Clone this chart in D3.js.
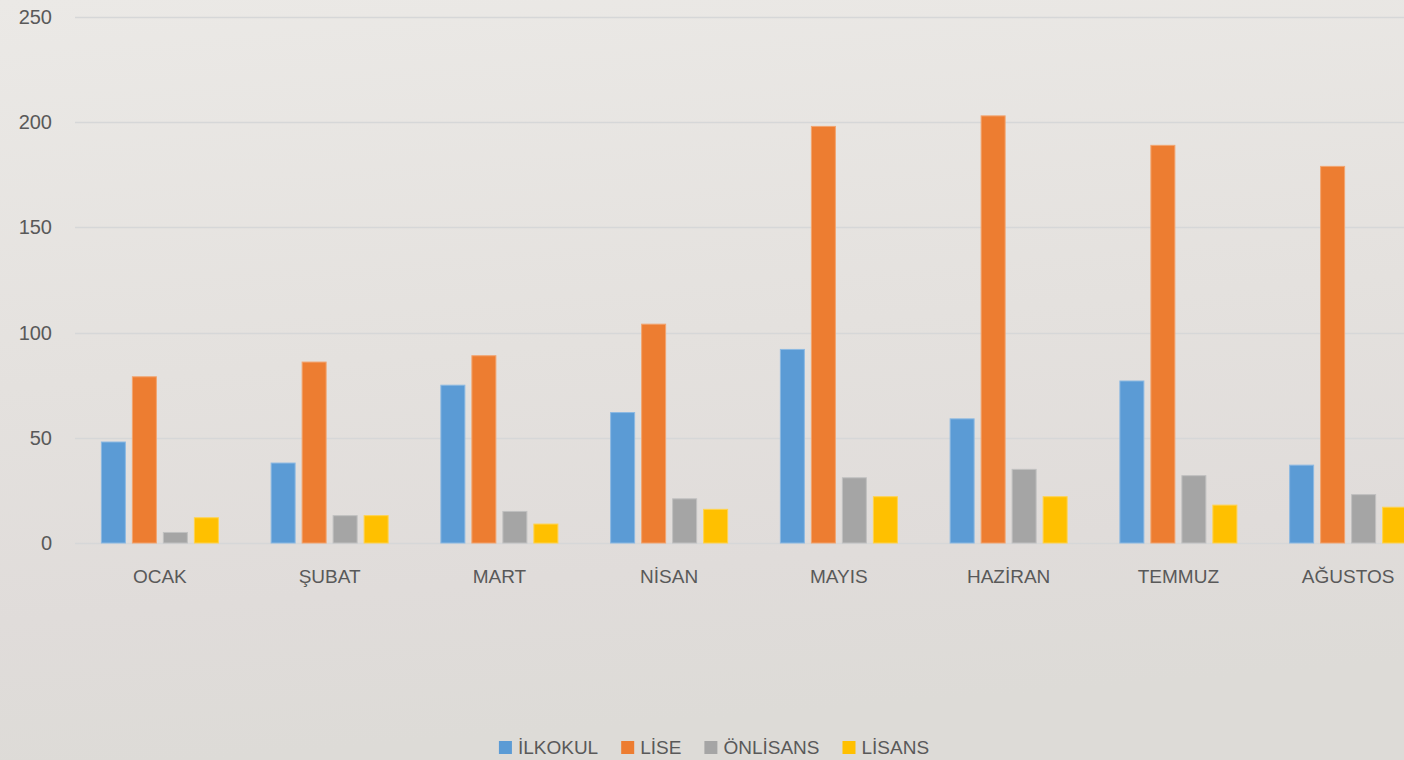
<!DOCTYPE html>
<html>
<head>
<meta charset="utf-8">
<script src="https://cdn.jsdelivr.net/npm/d3@7"></script>
<style>
  html, body { margin: 0; padding: 0; overflow: hidden; }
  body { width: 1404px; height: 760px; }
</style>
</head>
<body>
<svg id="chart" width="1404" height="760"></svg>
<script>
var months = ['OCAK', 'ŞUBAT', 'MART', 'NİSAN', 'MAYIS', 'HAZİRAN', 'TEMMUZ', 'AĞUSTOS'];
var seriesNames = ['İLKOKUL', 'LİSE', 'ÖNLİSANS', 'LİSANS'];
var ilkokul = [48, 38, 75, 62, 92, 59, 77, 37];
var lise = [79, 86, 89, 104, 198, 203, 189, 179];
var onlisans = [5, 13, 15, 21, 31, 35, 32, 23];
var lisans = [12, 13, 9, 16, 22, 22, 18, 17];
var yTicks = [0, 50, 100, 150, 200, 250];

var colors = ['#5b9bd5', '#ed7d31', '#a5a5a5', '#ffc000'];
var values = [ilkokul, lise, onlisans, lisans];

var svg = d3.select('#chart');

// background gradient
var defs = svg.append('defs');
var grad = defs.append('linearGradient')
    .attr('id', 'bg').attr('x1', 0).attr('y1', 0).attr('x2', 0.15).attr('y2', 1);
grad.append('stop').attr('offset', '0%').attr('stop-color', '#ebe9e6');
grad.append('stop').attr('offset', '50%').attr('stop-color', '#e4e1de');
grad.append('stop').attr('offset', '80%').attr('stop-color', '#e0dcda');
grad.append('stop').attr('offset', '100%').attr('stop-color', '#dddbd7');
svg.append('rect').attr('width', 1404).attr('height', 760).attr('fill', 'url(#bg)');

var margin = {left: 75, top: 17};
var plotBottom = 543;

var x0 = d3.scaleBand().domain(months).range([margin.left, margin.left + 8 * 169.75]).padding(0);
var groupW = 117;
var x1 = d3.scaleBand().domain(seriesNames)
    .range([(x0.bandwidth() - groupW) / 2, (x0.bandwidth() + groupW) / 2])
    .paddingInner(7 / 31);
var y = d3.scaleLinear().domain([0, 250]).range([plotBottom, margin.top]);

// gridlines
svg.append('g').selectAll('line')
    .data(yTicks)
    .enter()
    .append('line')
    .attr('x1', margin.left)
    .attr('x2', 1404)
    .attr('y1', function(d){ return Math.round(y(d)) + 0.5; })
    .attr('y2', function(d){ return Math.round(y(d)) + 0.5; })
    .attr('stroke', '#d6d7d8')
    .attr('stroke-width', 1.3);

// y tick labels
svg.append('g').selectAll('text')
    .data(yTicks)
    .enter()
    .append('text')
    .text(function(d){ return d; })
    .attr('x', 52)
    .attr('y', function(d){ return y(d) + 7; })
    .attr('text-anchor', 'end')
    .style('font-family', '"Liberation Sans", Arial, sans-serif')
    .style('font-size', '20px')
    .style('fill', '#595959');

// bars
var groups = svg.append('g').selectAll('g')
    .data(months)
    .enter()
    .append('g')
    .attr('transform', function(d){ return 'translate(' + x0(d) + ',0)'; });

groups.selectAll('rect')
    .data(function(d, i){
        return seriesNames.map(function(s, j){ return {s: s, v: values[j][i], c: colors[j]}; });
    })
    .enter()
    .append('rect')
    .attr('x', function(d){ return x1(d.s); })
    .attr('width', x1.bandwidth())
    .attr('y', function(d){ return y(d.v); })
    .attr('height', function(d){ return plotBottom - y(d.v); })
    .attr('fill', function(d){ return d.c; })
    .attr('stroke', function(d){ return d3.interpolateRgb(d.c, '#ffffff')(0.3); })
    .attr('stroke-width', 1);

// category labels
svg.append('g').selectAll('text')
    .data(months)
    .enter()
    .append('text')
    .text(function(d){ return d; })
    .attr('x', function(d){ return x0(d) + x0.bandwidth() / 2; })
    .attr('y', 583)
    .attr('text-anchor', 'middle')
    .style('font-family', '"Liberation Sans", Arial, sans-serif')
    .style('font-size', '19px')
    .style('fill', '#595959');

// legend
var legend = svg.append('g');
var items = legend.selectAll('g')
    .data(seriesNames)
    .enter()
    .append('g');
items.append('rect')
    .attr('width', 13).attr('height', 13)
    .attr('y', 741)
    .attr('fill', function(d, i){ return colors[i]; });
items.append('text')
    .text(function(d){ return d; })
    .attr('x', 19)
    .attr('y', 754)
    .style('font-family', '"Liberation Sans", Arial, sans-serif')
    .style('font-size', '19px')
    .style('fill', '#595959');

var pos = 0, gap = 23, offsets = [];
items.each(function(d, i){
    offsets.push(pos);
    var w = 19 + this.querySelector('text').getComputedTextLength();
    pos += w + gap;
});
var totalW = pos - gap;
var startX = 714 - totalW / 2;
items.attr('transform', function(d, i){ return 'translate(' + (startX + offsets[i]) + ',0)'; });
</script>
</body>
</html>
